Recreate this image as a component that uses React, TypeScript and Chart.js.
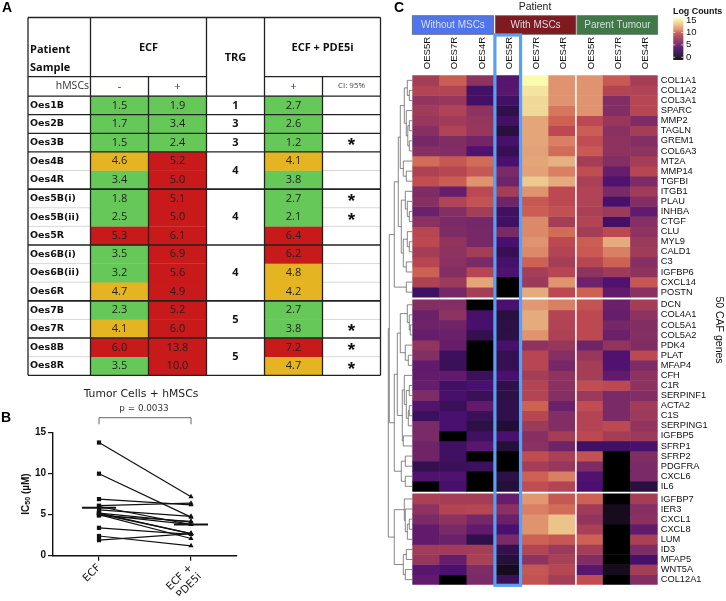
import React, { useEffect, useRef } from "react";
import { Chart, registerables } from "chart.js";

Chart.register(...registerables);

/* ---------- Panel A ---------- */
const sampleLabels = ["Oes1B","Oes2B","Oes3B","Oes4B","Oes4R","Oes5B(i)","Oes5B(ii)","Oes5R","Oes6B(i)","Oes6B(ii)","Oes6R","Oes7B","Oes7R","Oes8B","Oes8R"];
const ecfMinus = [1.5,1.7,1.5,4.6,3.4,1.8,2.5,5.3,3.5,3.2,4.7,2.3,4.1,6.0,3.5];
const ecfPlus = [1.9,3.4,2.4,5.2,5.0,5.1,5.0,6.1,6.9,5.6,4.9,5.2,6.0,13.8,10.0];
const pde5iPlus = [2.7,2.6,1.2,4.1,3.8,2.7,2.1,6.4,6.2,4.8,4.2,2.7,3.8,7.2,4.7];
const ciStars = ["","","*","","","*","*","","","","","","*","*","*"];
const trgValues = ["1","3","3","4","4","4","5","5"];
const trgSpans = [1,1,1,2,3,3,2,2];
const tableColumns = ["ECF -","ECF +","TRG","ECF + PDE5i +","CI: 95%"];

/* ---------- Panel B ---------- */
const pairedLabels = ["ECF", ["ECF +", "PDE5i"]];
const pairedMeans = [5.85, 3.8];
const yTicksB = [0, 5, 10, 15];

/* ---------- Panel C ---------- */
const geneLabels = ["COL1A1","COL1A2","COL3A1","SPARC","MMP2","TAGLN","GREM1","COL6A3","MT2A","MMP14","TGFBI","ITGB1","PLAU","INHBA","CTGF","CLU","MYL9","CALD1","C3","IGFBP6","CXCL14","POSTN",
"DCN","COL4A1","COL5A1","COL5A2","PDK4","PLAT","MFAP4","CFH","C1R","SERPINF1","ACTA2","C1S","SERPING1","IGFBP5","SFRP1","SFRP2","PDGFRA","CXCL6","IL6",
"IGFBP7","IER3","CXCL1","CXCL8","LUM","ID3","MFAP5","WNT5A","COL12A1"];
const geneGroupSizes = [22, 19, 9];
const columnLabels = ["OES5R","OES7R","OES4R","OES5R","OES7R","OES4R","OES5R","OES7R","OES4R"];
const withoutOes5R = [8,8.6,7.2,7.8,7.4,6.6,5.8,6.6,10.2,8.4,9.2,6.2,6.6,5.4,6.8,8.8,9,8,8.8,10,8.4,3.4, 6.5,5.4,5.5,5.2,7.2,6.5,5,5,5.2,6.2,4.4,3.2,6,6,5.6,5.6,2.6,4.2,0, 8.2,7,6,5,5,7.8,7.4,4.6,5];
const withoutOes7R = [9.8,8.6,7.4,8.5,7.8,8.5,6.3,6.4,9.6,8.8,9.8,5.2,8.5,6.5,6,6.2,7.2,7,6.8,6.5,7.6,5.8, 6.4,7,5.6,5.4,5.2,3.2,3,5,3.4,3.8,3,4,4,0,3.4,3.4,3,4.2,3.8, 8,8.6,7,6,5.4,7.8,5.2,4,0];
const withoutOes4R = [7,3.5,3.6,7,7.3,7.4,5.7,4.2,10.2,9.6,11,9,9.4,8,5.8,5.9,5.9,8,6,8.8,11.8,8, 0,3.8,3.8,2.6,0,0,0,3.2,4,3,5,3,2.2,3.4,4.6,0,3.2,0,0, 8,8.8,5.8,5,2.4,8,8.2,6.2,6];
const withOes5R = [4.5,4.6,3.5,2.4,3.6,2,3.8,2.8,4,6,5.6,8,5.6,3.4,3.4,6,4,2.8,3.8,4.2,0,0, 4,2,2.2,2.2,3.8,2.8,2.8,4,2.4,2.2,2.4,2.4,1.6,4,1.8,0,0,2.2,1.8, 5.2,6.8,5.4,4,6,2.6,1.8,1,3];
const withOes7R = [15,14,13.5,13.5,11.8,11.8,11.8,11.6,11.8,11.6,13,11,9.6,9.8,10.8,10.8,11,10.8,10,8,7.6,12, 11.2,12,12,11,7,8.8,8.8,8,8.6,8.6,10,8.8,7.6,6.6,6.8,9.2,8,10,9.2, 11.2,10.6,11,11,10,8.6,7,9.6,9.4];
const withOes4R = [11,11,11,10.4,10,9,10.6,10.2,12.2,10.6,12,9,9,9.3,8,10.2,9,8.6,8,8.8,11,9, 10.6,8.6,8.5,8.4,7.4,6.6,5.8,7,6.8,6.6,5.4,6.4,6.4,8,5.6,8.2,7.4,10.6,8.6, 9.6,10.2,12.8,12.8,9.6,7.6,8.2,8.8,8];
const parentOes5R = [11,11,11,11,9,9.8,9.2,9.7,8,9.2,8.2,8.5,8.5,8.2,8.6,8,9.8,9.7,8.8,7,5.5,10, 9.4,9,9,9,5.6,7.4,8,8,9.2,7.6,9.2,8.6,8.6,9,3.4,9.4,6.2,4.2,4, 10,7.8,7.2,8.2,10,8,6.4,4.6,9.2];
const parentOes7R = [9.7,8.6,6.4,6.4,7.4,6.8,7,7,6.5,5.2,4.2,6,3.8,7.6,3.6,9,12,10.6,10,7.7,4.2,5, 5.4,5.2,5.8,5.4,7.2,4.2,4.2,5,9,6,6,6,9,8,3.4,0,0,0,0, 0,1,1,0,0,0,0,1,0];
const parentOes4R = [8,8.5,8.8,8.8,6.2,8,6.5,7,8,8.8,6.2,7.8,6.4,5,6.6,7,7.5,7.8,6.6,7,9.6,6.8, 8,7,6.4,6.5,6.3,9,6.2,7,7,6.4,7.8,7.6,7.2,7.6,3.8,6.3,6,6,2, 8,6.6,6.8,5,8.2,6.2,3.8,8,6.4];
const heatColumns = [withoutOes5R,withoutOes7R,withoutOes4R,withOes5R,withOes7R,withOes4R,parentOes5R,parentOes7R,parentOes4R];
const legendTicks = [15, 10, 5, 0];
/* dendrogram: [height, left child, right child]; a number is a gene row */
const treeA = [12,[8,[5,0,[3,1,2]],[6,3,[4.5,[3,4,5],[3,6,7]]]],[9,8,[6,9,10]]];
const treeB = [11,[7,11,[5,12,[3,13,14]]],[9,[5,15,[3,16,17]],[6,18,19]]];
const treeG1 = [18,[14,treeA,treeB],[6,20,21]];
const treeG2 = [18,[15,[12,[5,22,[3,23,[2,24,25]]],[7,26,[4,27,28]]],[10,[8,29,[6,[3,30,31],[4,[3,32,33],34]]],[9,35,36]]],[11,[7,37,38],[7,39,40]]];
const treeG3 = [18,[8,41,[7,42,[5,[3,43,44],45]]],[9,[6,46,47],[7,48,49]]];
const geneTree = [24,[23,treeG1,treeG2],treeG3];

/* ---------- styles ---------- */
const SANS = '"Liberation Sans", Arial, sans-serif';
const OPEN = '"Open Sans", sans-serif';
const DEJA = '"DejaVu Sans", sans-serif';
const GREEN = "#66C859", AMBER = "#E5B423", RED = "#C8191B";
const magmaStops: [number, string][] = [
  [0,"#000000"],[1,"#170c1e"],[2,"#2a1040"],[3,"#3a1058"],[4,"#4a1070"],[5,"#611a6c"],[6,"#7a2a66"],[7,"#8e3360"],[8,"#a43e57"],[9,"#bc4852"],[10,"#cd6254"],[11,"#e0936f"],[12,"#e5ab7c"],[13.5,"#f0d898"],[15,"#fbfbb0"],
];
function rgb(h: string) { return [1,3,5].map((i) => parseInt(h.slice(i,i+2),16)); }
function heatColor(v: number) {
  for (let i = 1; i < magmaStops.length; i++) {
    const [v1,c1] = magmaStops[i];
    if (v <= v1) {
      const [v0,c0] = magmaStops[i-1];
      const t = (v-v0)/(v1-v0), a = rgb(c0), b = rgb(c1);
      return `rgb(${a.map((x,k)=>Math.round(x+(b[k]-x)*t)).join(",")})`;
    }
  }
  return magmaStops[magmaStops.length-1][1];
}
function cellColor(v: number) { return v < 4 ? GREEN : v < 4.85 ? AMBER : RED; }

function text(ctx: any, s: string, x: number, y: number, font: string, color = "#111", align = "center", rot = 0) {
  ctx.save();
  ctx.translate(x, y);
  if (rot) ctx.rotate(rot);
  ctx.font = font; ctx.fillStyle = color; ctx.textAlign = align; ctx.textBaseline = "middle";
  ctx.fillText(s, 0, 0);
  ctx.restore();
}
function line(ctx: any, x0: number, y0: number, x1: number, y1: number, color = "#222", w = 1.3) {
  ctx.strokeStyle = color; ctx.lineWidth = w; ctx.beginPath(); ctx.moveTo(x0,y0); ctx.lineTo(x1,y1); ctx.stroke();
}

/* ---------- Chart A: table ---------- */
function tableConfig(): any {
  const cols = [ecfMinus, ecfPlus, null, pde5iPlus, null];
  return {
    type: "bar",
    data: {
      labels: tableColumns,
      datasets: sampleLabels.map((_, r) => ({
        data: cols.map(() => [r, r + 1]),
        backgroundColor: cols.map((c) => (c ? cellColor(c[r]) : "rgba(255,255,255,0)")),
        borderWidth: 0, borderSkipped: false, inflateAmount: 0.2, grouped: false,
        barPercentage: 1, categoryPercentage: 1,
      })),
    },
    options: {
      responsive: false, animation: false, indexAxis: "x",
      layout: { padding: { left: 30, top: 17.5, right: 345.5, bottom: 225.7 } },
      plugins: { legend: { display: false }, tooltip: { enabled: false } },
      scales: {
        x: { display: false },
        y: {
          min: -4.22, max: 15, reverse: true, position: "left",
          afterFit: (s: any) => { s.width = 60.5; },
          afterBuildTicks: (s: any) => { s.ticks = sampleLabels.map((_, i) => ({ value: i + 0.5 })); },
          grid: { display: false }, border: { display: false },
          ticks: { autoSkip: false, crossAlign: "far", padding: 0, color: "#111", font: { family: DEJA, size: 9.5, weight: "bold" },
            callback: (_v: any, i: number) => sampleLabels[i] },
        },
      },
    },
    plugins: [{
      id: "tableText",
      afterDatasetsDraw(chart: any) {
        const { ctx, scales: { x, y } } = chart;
        const colW = x.width / 5;
        const E = (i: number) => x.left + i * colW;
        const L = 28, R = E(5);
        const Y = (r: number) => y.getPixelForValue(r);
        ctx.save();
        for (const r of [4,6,7,9,10,12,14]) { line(ctx, L, Y(r), E(0), Y(r), "#d8d8d8", 1); line(ctx, E(4), Y(r), R, Y(r), "#d8d8d8", 1); }
        for (const r of [-4.22,0,1,2,3,5,8,11,13,15]) line(ctx, L, Y(r), R, Y(r), "#222", r === 5 || r === 8 || r === 11 || r === 13 ? 1.6 : 1.3);
        line(ctx, L, Y(-1.04), E(2), Y(-1.04)); line(ctx, E(3), Y(-1.04), R, Y(-1.04));
        [L, E(0), E(2), E(3), E(5)].forEach((v) => line(ctx, v, Y(-4.22), v, Y(15)));
        [E(1), E(4)].forEach((v) => line(ctx, v, Y(-1.04), v, Y(15)));
        const bold11 = `bold 11px ${OPEN}`, reg = `11px ${OPEN}`;
        text(ctx, "Patient", 30, 49.5, bold11, "#111", "left");
        text(ctx, "Sample", 30, 67.5, bold11, "#111", "left");
        text(ctx, "ECF", E(1), 47.5, bold11);
        text(ctx, "TRG", E(2) + colW / 2, 57.5, bold11);
        text(ctx, "ECF + PDE5i", E(4), 47.5, bold11);
        text(ctx, "hMSCs", 89, 86.5, `10.5px ${OPEN}`, "#333", "right");
        text(ctx, "-", E(0) + colW / 2, 86.5, reg, "#333");
        text(ctx, "+", E(1) + colW / 2, 86.5, reg, "#333");
        text(ctx, "+", E(3) + colW / 2, 86.5, reg, "#333");
        text(ctx, "CI: 95%", E(4) + colW / 2, 86, `8px ${OPEN}`, "#444");
        sampleLabels.forEach((_, i) => {
          const yc = Y(i + 0.5);
          text(ctx, ecfMinus[i].toFixed(1), x.getPixelForValue(0), yc, reg, "#222");
          text(ctx, ecfPlus[i].toFixed(1), x.getPixelForValue(1), yc, reg, "#222");
          text(ctx, pde5iPlus[i].toFixed(1), x.getPixelForValue(3), yc, reg, "#222");
          if (ciStars[i]) text(ctx, ciStars[i], x.getPixelForValue(4), yc + 3.5, `bold 19px ${SANS}`, "#111");
        });
        let start = 0;
        trgValues.forEach((v, i) => {
          text(ctx, v, x.getPixelForValue(2), Y(start + trgSpans[i] / 2), bold11);
          start += trgSpans[i];
        });
        text(ctx, "A", 2, 8.5, `bold 14px ${SANS}`, "#000", "left");
        text(ctx, "B", 1, 418.5, `bold 14px ${SANS}`, "#000", "left");
        ctx.restore();
      },
    }],
  };
}

/* ---------- Chart B: paired lines ---------- */
function pairedConfig(): any {
  return {
    type: "line",
    data: {
      labels: pairedLabels,
      datasets: ecfPlus.map((v, i) => ({
        data: [v, pde5iPlus[i]],
        borderColor: "#111", backgroundColor: "#111", borderWidth: 1.2,
        pointStyle: ["rect", "triangle"], pointRadius: 3, pointBorderWidth: 0, tension: 0, clip: false,
      })),
    },
    options: {
      responsive: false, animation: false,
      layout: { padding: { left: 30, top: 432.7, right: 489, bottom: 5.3 } },
      plugins: { legend: { display: false }, tooltip: { enabled: false } },
      scales: {
        x: {
          type: "category", offset: true,
          afterFit: (s: any) => { s.height = 40; },
          grid: { drawOnChartArea: false, tickLength: 5, color: "#111", lineWidth: 1.2 },
          border: { color: "#111", width: 1.4 },
          ticks: { maxRotation: 45, minRotation: 45, padding: 1, color: "#111", font: { family: DEJA, size: 10.5 } },
        },
        y: {
          min: 0, max: 15,
          afterFit: (s: any) => { s.width = 23; },
          afterBuildTicks: (s: any) => { s.ticks = yTicksB.map((value) => ({ value })); },
          grid: { drawOnChartArea: false, tickLength: 5, color: "#111", lineWidth: 1.2 },
          border: { color: "#111", width: 1.4 },
          ticks: { padding: 2, color: "#111", font: { family: SANS, size: 10, weight: "bold" } },
        },
      },
    },
    plugins: [{
      id: "pairedExtras",
      afterDatasetsDraw(chart: any) {
        const { ctx, scales: { x, y } } = chart;
        const half = x.width * 0.0925;
        pairedMeans.forEach((m, i) => {
          const p = x.getPixelForValue(i), q = y.getPixelForValue(m);
          line(ctx, p - half, q, p + half, q, "#111", 1.9);
        });
        const a = x.getPixelForValue(0), b = x.getPixelForValue(1);
        ctx.strokeStyle = "#555"; ctx.lineWidth = 0.9; ctx.beginPath();
        ctx.moveTo(a, 424.3); ctx.lineTo(a, 417.7); ctx.lineTo(b, 417.7); ctx.lineTo(b, 424.3); ctx.stroke();
        text(ctx, "Tumor Cells + hMSCs", (a + b) / 2 - 4, 394, `10.8px ${DEJA}`, "#222");
        text(ctx, "p = 0.0033", (a + b) / 2 - 1, 409, `8.8px ${DEJA}`, "#333");
        // y title with subscript
        const cx = 26, cy = 494;
        ctx.save();
        ctx.translate(cx, cy); ctx.rotate(-Math.PI / 2); ctx.textBaseline = "middle"; ctx.fillStyle = "#111"; ctx.textAlign = "left";
        const f = `bold 10px ${SANS}`, fs = `bold 7px ${SANS}`;
        ctx.font = f; const w1 = ctx.measureText("IC").width, w3 = ctx.measureText(" (µM)").width;
        ctx.font = fs; const w2 = ctx.measureText("50").width;
        let px = -(w1 + w2 + w3) / 2;
        ctx.font = f; ctx.fillText("IC", px, 0); px += w1;
        ctx.font = fs; ctx.fillText("50", px, 2.5); px += w2;
        ctx.font = f; ctx.fillText(" (µM)", px, 0);
        ctx.restore();
      },
    }],
  };
}

/* ---------- Chart C: heatmap ---------- */
const GAP = 0.25;
function rowStarts() {
  const out: number[] = [];
  let g = 0, used = 0;
  geneLabels.forEach((_, i) => {
    if (i - used >= geneGroupSizes[g]) { used += geneGroupSizes[g]; g++; }
    out.push(i + g * GAP);
  });
  return out;
}
function heatConfig(): any {
  const starts = rowStarts();
  return {
    type: "bar",
    data: {
      labels: columnLabels,
      datasets: geneLabels.map((_, r) => ({
        data: heatColumns.map(() => [starts[r], starts[r] + 1]),
        backgroundColor: heatColumns.map((c) => heatColor(c[r])),
        borderWidth: 0, borderSkipped: false, inflateAmount: 0.3, grouped: false,
        barPercentage: 1, categoryPercentage: 1,
      })),
    },
    options: {
      responsive: false, animation: false,
      layout: { padding: { left: 412.3, top: 35.3, right: 0, bottom: 16.3 } },
      plugins: { legend: { display: false }, tooltip: { enabled: false } },
      scales: {
        x: {
          position: "top", type: "category",
          afterFit: (s: any) => { s.height = 40; },
          grid: { display: false, drawTicks: false }, border: { display: false },
          ticks: { autoSkip: false, maxRotation: 90, minRotation: 90, padding: 6, labelOffset: 13, color: "#111", font: { family: SANS, size: 9.6 } },
        },
        y: {
          position: "right", min: 0, max: 50 + 2 * GAP, reverse: true,
          afterFit: (s: any) => { s.width = 68.3; },
          afterBuildTicks: (s: any) => { s.ticks = starts.map((v) => ({ value: v + 0.5 })); },
          grid: { display: false, drawTicks: false }, border: { display: false },
          ticks: { autoSkip: false, padding: 3, color: "#111", font: { family: SANS, size: 9.3 }, callback: (_v: any, i: number) => geneLabels[i] },
        },
      },
    },
    plugins: [{
      id: "heatExtras",
      afterDatasetsDraw(chart: any) {
        const { ctx, scales: { x, y } } = chart;
        const colW = x.width / 9;
        const top = y.top, bottom = y.bottom;
        // separators
        line(ctx, x.left + 6 * colW, top, x.left + 6 * colW, bottom, "#fff", 1.6);
        // group boxes
        const groups: [string, string][] = [["Without MSCs", "#4f75ee"], ["With MSCs", "#7f1a20"], ["Parent Tumour", "#3f7a46"]];
        groups.forEach(([label, color], i) => {
          const l = x.left + i * 3 * colW + (i ? 1.2 : 0), w = 3 * colW - (i ? 1.2 : 0.6);
          ctx.fillStyle = color; ctx.fillRect(l, 15.7, w, 18.6);
          ctx.strokeStyle = "#666"; ctx.lineWidth = 0.8; ctx.strokeRect(l, 15.7, w, 18.6);
          text(ctx, label, l + w / 2, 25.5, `10px ${SANS}`, "#d9dde6");
        });
        text(ctx, "Patient", 535, 7, `10.5px ${SANS}`, "#222");
        text(ctx, "C", 394, 8.5, `bold 14px ${SANS}`, "#000", "left");
        // highlight
        const cx = x.getPixelForValue(3);
        ctx.strokeStyle = "#5b9fee"; ctx.lineWidth = 3.2;
        ctx.strokeRect(cx - colW / 2 + 0.8, 35, colW - 1.6, bottom + 0.6 - 35);
        // dendrogram
        const dendro = (node: any): number => {
          if (typeof node === "number") return y.getPixelForValue(starts[node] + 0.5);
          const [h, a, b] = node;
          const hx = (n: any) => (typeof n === "number" ? x.left : x.left - n[0]);
          const ya = dendro(a), yb = dendro(b), px = x.left - h;
          ctx.strokeStyle = "#555"; ctx.lineWidth = 0.7; ctx.beginPath();
          ctx.moveTo(hx(a), ya); ctx.lineTo(px, ya); ctx.lineTo(px, yb); ctx.lineTo(hx(b), yb); ctx.stroke();
          return (ya + yb) / 2;
        };
        dendro(geneTree);
        // colour legend
        const lx = 673.3, lw = 10, ly0 = 17.7, ly1 = 59.3;
        for (let py = 0; py < ly1 - ly0; py++) {
          ctx.fillStyle = heatColor(15 * (1 - py / (ly1 - ly0)));
          ctx.fillRect(lx, ly0 + py, lw, 1.2);
        }
        legendTicks.forEach((v) => {
          const py = 57.3 - (v / 15) * 37.3;
          text(ctx, String(v), 686, py, `9.5px ${SANS}`, "#111", "left");
          line(ctx, lx, py, lx + 2, py, "#fff", 0.7); line(ctx, lx + lw - 2, py, lx + lw, py, "#fff", 0.7);
        });
        text(ctx, "Log Counts", 673, 11.5, `bold 8.9px ${SANS}`, "#111", "left");
        text(ctx, "50 CAF genes", 719, 330, `10.5px ${SANS}`, "#111", "center", Math.PI / 2);
      },
    }],
  };
}

const canvasStyle: React.CSSProperties = { position: "absolute", left: 0, top: 0, display: "block" };

export default function App() {
  const a = useRef<HTMLCanvasElement>(null);
  const b = useRef<HTMLCanvasElement>(null);
  const c = useRef<HTMLCanvasElement>(null);
  useEffect(() => {
    const charts = [
      new Chart(c.current as any, heatConfig()),
      new Chart(a.current as any, tableConfig()),
      new Chart(b.current as any, pairedConfig()),
    ];
    return () => charts.forEach((ch) => ch.destroy());
  }, []);
  return (
    <div style={{ position: "absolute", left: 0, top: 0, width: 726, height: 601, background: "#fff", overflow: "hidden" }}>
      <canvas ref={c} width={726} height={601} style={canvasStyle} />
      <canvas ref={a} width={726} height={601} style={canvasStyle} />
      <canvas ref={b} width={726} height={601} style={canvasStyle} />
    </div>
  );
}
